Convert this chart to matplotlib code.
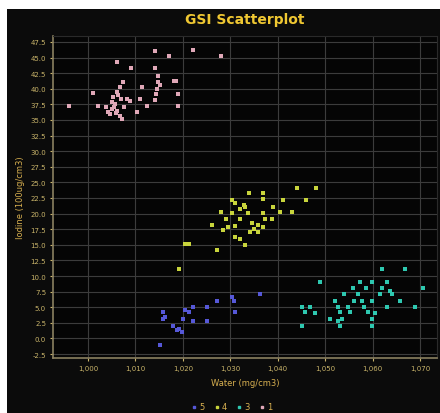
import numpy as np
import matplotlib
matplotlib.use("Agg")
import matplotlib.pyplot as plt
from matplotlib.patches import Rectangle
from matplotlib.lines import Line2D

# --- data ---
pink_x = [1.0141, 1.0222, 1.0281, 1.0171, 1.0061, 1.0091, 1.0141, 1.0148, 1.0148, 1.0186,
          1.0074, 1.0068, 1.0114, 1.0146, 1.0011, 1.0061, 1.0190, 1.0053, 1.0082, 1.0110,
          1.0141, 1.0051, 1.0089, 0.9960, 1.0021, 1.0125, 1.0190, 1.0051, 1.0061, 1.0103,
          1.0068, 1.0046, 1.0042, 1.0072, 1.0057, 1.0063, 1.0076, 1.0152, 1.0181, 1.0144,
          1.0055, 1.0070, 1.0038, 1.0059]
pink_y = [46.1, 46.2, 45.3, 45.3, 44.3, 43.3, 43.3, 42.1, 41.1, 41.2,
          41.1, 40.3, 40.3, 40.0, 39.3, 39.5, 39.2, 38.7, 38.4, 38.4,
          38.2, 37.9, 38.0, 37.2, 37.2, 37.2, 37.2, 36.8, 36.4, 36.3,
          35.6, 36.0, 36.3, 35.2, 37.6, 39.0, 37.1, 40.6, 41.3, 39.2,
          37.1, 38.4, 37.1, 36.1]

yellow_x = [1.0440, 1.0480, 1.0340, 1.0370, 1.0370, 1.0411, 1.0459, 1.0303, 1.0310, 1.0331,
            1.0321, 1.0391, 1.0280, 1.0303, 1.0338, 1.0370, 1.0405, 1.0430, 1.0291, 1.0321,
            1.0373, 1.0388, 1.0345, 1.0359, 1.0261, 1.0310, 1.0349, 1.0370, 1.0285, 1.0342,
            1.0359, 1.0310, 1.0321, 1.0331, 1.0205, 1.0212, 1.0272, 1.0296, 1.0328, 1.0191]
yellow_y = [24.1, 24.1, 23.3, 23.3, 22.3, 22.2, 22.1, 22.1, 21.7, 21.0,
            20.7, 21.0, 20.2, 20.1, 20.1, 20.1, 20.2, 20.2, 19.1, 19.1,
            19.1, 19.1, 18.5, 18.2, 18.1, 18.0, 17.5, 17.8, 17.3, 17.1,
            17.0, 16.2, 16.0, 15.0, 15.1, 15.1, 14.2, 17.8, 21.3, 11.1]

blue_x = [1.0363, 1.0307, 1.0303, 1.0310, 1.0272, 1.0250, 1.0222, 1.0212, 1.0159, 1.0159,
          1.0201, 1.0222, 1.0250, 1.0180, 1.0198, 1.0152, 1.0191, 1.0162, 1.0187, 1.0205]
blue_y = [7.1, 6.0, 6.6, 4.2, 6.0, 5.0, 5.1, 4.2, 4.2, 3.1,
          3.1, 2.8, 2.8, 2.0, 1.1, -1.1, 1.5, 3.4, 1.3, 4.5]

cyan_x = [1.0620, 1.0669, 1.0490, 1.0574, 1.0599, 1.0630, 1.0707, 1.0558, 1.0587, 1.0620,
          1.0637, 1.0539, 1.0570, 1.0616, 1.0641, 1.0521, 1.0560, 1.0577, 1.0599, 1.0658,
          1.0451, 1.0468, 1.0528, 1.0549, 1.0581, 1.0630, 1.0690, 1.0458, 1.0479, 1.0532,
          1.0553, 1.0591, 1.0606, 1.0511, 1.0535, 1.0599, 1.0451, 1.0532, 1.0599, 1.0528]
cyan_y = [11.1, 11.1, 9.1, 9.1, 9.1, 9.1, 8.0, 8.0, 8.0, 8.0,
          7.6, 7.1, 7.1, 7.1, 7.1, 6.0, 6.0, 6.0, 6.0, 6.0,
          5.1, 5.1, 5.0, 5.0, 5.0, 5.0, 5.0, 4.2, 4.1, 4.2,
          4.2, 4.2, 4.1, 3.1, 3.1, 3.1, 2.0, 2.0, 2.0, 2.8]

x_ticks = [1.000, 1.010, 1.020, 1.030, 1.040, 1.050, 1.060, 1.070]
y_ticks = [-2.5, 0.0, 2.5, 5.0, 7.5, 10.0, 12.5, 15.0, 17.5, 20.0, 22.5, 25.0,
           27.5, 30.0, 32.5, 35.0, 37.5, 40.0, 42.5, 45.0, 47.5]
legend_labels = ["5", "4", "3", "1"]

# --- figure ---
fig = plt.figure(figsize=(4.4, 4.14), dpi=100, facecolor="white")
# black panel (small white margin at top and left, as in the screenshot)
bg = fig.add_axes([7 / 440, 0, 1 - 7 / 440, 404 / 414], zorder=-5)
bg.set_facecolor("#0b0b0b")
bg.set_xticks([])
bg.set_yticks([])
for s in bg.spines.values():
    s.set_visible(False)

ax = fig.add_axes([53 / 440, 55 / 414, 384 / 440, 322 / 414], zorder=1)
ax.set_facecolor("#050505")

label_col = "#c9b46a"
grid_col = "#3c3c3c"

ax.set_xlim(0.99262, 1.07359)
ax.set_ylim(-3.14, 48.46)
ax.set_xticks(x_ticks)
ax.set_yticks(y_ticks)
ax.set_xticklabels([f"{v:.3f}".replace(".", ",") for v in x_ticks])
ax.set_yticklabels([f"{v:.1f}" for v in y_ticks])
ax.tick_params(colors=label_col, labelsize=5, length=2, pad=3)
ax.grid(True, color=grid_col, linewidth=0.8)
ax.set_axisbelow(True)
for s in ["top", "right"]:
    ax.spines[s].set_color("#2a2a2a")
for s in ["left", "bottom"]:
    ax.spines[s].set_color("#8a8060")
    ax.spines[s].set_linewidth(1.2)

ms = 9
ax.scatter(blue_x, blue_y, s=ms, marker="s", color="#5658d8", linewidths=0)
ax.scatter(yellow_x, yellow_y, s=ms, marker="s", color="#c8d43c", linewidths=0)
ax.scatter(cyan_x, cyan_y, s=ms, marker="s", color="#2ec8b0", linewidths=0)
ax.scatter(pink_x, pink_y, s=ms, marker="s", color="#e0a8b8", linewidths=0)

ax.set_xlabel("Water (mg/cm3)", color="#d8b050", fontsize=6, labelpad=5)
ax.set_ylabel("Iodine (100ug/cm3)", color="#d8b050", fontsize=6, labelpad=4)

fig.text(245 / 440, (414 - 20) / 414, "GSI Scatterplot", color="#f0c832",
         fontsize=10, fontweight="bold", ha="center", va="center")

handles = [Line2D([], [], linestyle="none", marker="s", markersize=2, color=c)
           for c in ["#5658d8", "#c8d43c", "#2ec8b0", "#e0a8b8"]]
leg = fig.legend(handles, legend_labels, loc="center", bbox_to_anchor=(232 / 440, 6 / 414),
                 ncol=4, frameon=False, fontsize=6, handlelength=0.6,
                 handletextpad=0.3, columnspacing=1.2, labelcolor="#d8b050")

fig.savefig("out.png", dpi=100, facecolor="white")
